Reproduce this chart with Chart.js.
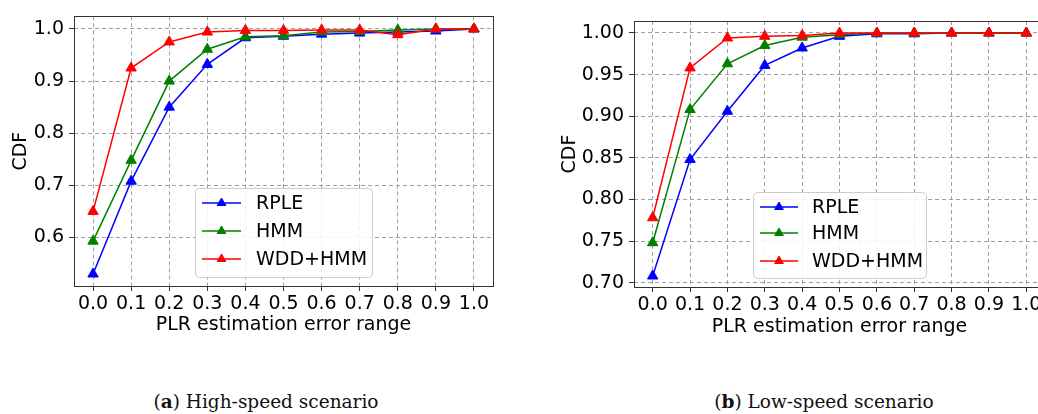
<!DOCTYPE html>
<html>
<head>
<meta charset="utf-8">
<script src="https://cdn.jsdelivr.net/npm/chart.js@4"></script>
<style>
    html, body { margin: 0; padding: 0; background: #fff; overflow: hidden; }
    body { width: 1038px; height: 414px; position: relative; }
    .box { position: absolute; top: 0; height: 340px; }
    #boxA { left: 0; width: 520px; }
    #boxB { left: 520px; width: 540px; }
    .cap { position: absolute; top: 392px; width: 300px; text-align: center; font-family: "DejaVu Serif"; font-size: 18.5px; line-height: 20px; color: #111; white-space: nowrap; }
    #capA { left: 116px; }
    #capB { left: 674px; }
</style>
</head>
<body>
<div class="box" id="boxA"><canvas id="chartA"></canvas></div>
<div class="box" id="boxB"><canvas id="chartB"></canvas></div>
<div class="cap" id="capA">(<b>a</b>) High-speed scenario</div>
<div class="cap" id="capB">(<b>b</b>) Low-speed scenario</div>
<script>
// x categories: PLR estimation error range
const errorRange = ['0.0', '0.1', '0.2', '0.3', '0.4', '0.5', '0.6', '0.7', '0.8', '0.9', '1.0'];
const seriesNames = ['RPLE', 'HMM', 'WDD+HMM'];

// (a) high-speed
const highRPLE = [0.530, 0.708, 0.850, 0.932, 0.983, 0.986, 0.990, 0.992, 0.994, 0.996, 1.000];
const highHMM  = [0.593, 0.748, 0.900, 0.961, 0.985, 0.987, 0.994, 0.995, 0.998, 1.000, 1.000];
const highWDD  = [0.650, 0.925, 0.975, 0.994, 0.997, 0.997, 0.998, 0.998, 0.989, 1.000, 1.000];
const highTicks = [0.6, 0.7, 0.8, 0.9, 1.0];

// (b) low-speed
const lowRPLE = [0.708, 0.848, 0.906, 0.961, 0.982, 0.996, 0.999, 0.999, 1.000, 1.000, 1.000];
const lowHMM  = [0.748, 0.908, 0.963, 0.985, 0.995, 0.998, 1.000, 1.000, 1.000, 1.000, 1.000];
const lowWDD  = [0.778, 0.958, 0.994, 0.996, 0.997, 1.000, 1.000, 1.000, 1.000, 1.000, 1.000];
const lowTicks = [0.70, 0.75, 0.80, 0.85, 0.90, 0.95, 1.00];

const colors = ['#0000ff', '#008000', '#ff0000'];
const font = { family: 'DejaVu Sans', size: 19 };

// box around the plot area, like matplotlib spines
const frame = {
    id: 'frame',
    afterDraw(chart) {
        const a = chart.chartArea, ctx = chart.ctx;
        ctx.save();
        ctx.strokeStyle = '#333';
        ctx.lineWidth = 1;
        ctx.strokeRect(Math.round(a.left) + 0.5, Math.round(a.top) + 0.5,
            Math.round(a.right - a.left), Math.round(a.bottom - a.top));
        ctx.restore();
    }
};

// legend drawn inside the plot
const boxLegend = {
    id: 'boxLegend',
    afterDraw(chart, args, o) {
        const ctx = chart.ctx;
        ctx.save();
        ctx.fillStyle = 'rgba(255,255,255,0.85)';
        ctx.strokeStyle = '#cccccc';
        ctx.lineWidth = 1;
        ctx.beginPath();
        ctx.roundRect(o.x + 0.5, o.y + 0.5, o.w, o.h, 4);
        ctx.fill();
        ctx.stroke();
        chart.data.datasets.forEach((ds, i) => {
            const y = o.rows[i];
            ctx.strokeStyle = ds.borderColor;
            ctx.fillStyle = ds.borderColor;
            ctx.lineWidth = 1.5;
            ctx.beginPath();
            ctx.moveTo(o.lineX0, y);
            ctx.lineTo(o.lineX1, y);
            ctx.stroke();
            ctx.lineWidth = 1;
            Chart.helpers.drawPoint(ctx, { pointStyle: 'triangle', radius: 5, borderWidth: 1 }, (o.lineX0 + o.lineX1) / 2, y);
            ctx.fillStyle = '#000';
            ctx.font = '19px "DejaVu Sans"';
            ctx.textBaseline = 'middle';
            ctx.fillText(ds.label, o.textX, y + 1);
        });
        ctx.restore();
    }
};

function makeChart(id, series, yTicks, digits, L) {
    const datasets = series.map((vals, i) => ({
        label: seriesNames[i],
        data: vals,
        borderColor: colors[i],
        backgroundColor: colors[i],
        pointBackgroundColor: colors[i],
        pointBorderColor: colors[i],
        borderWidth: 1.5,
        pointStyle: 'triangle',
        pointRadius: 6,
        pointBorderWidth: 1,
        tension: 0,
        order: 3 - i
    }));

    new Chart(document.getElementById(id), {
        type: 'line',
        data: { labels: errorRange, datasets: datasets },
        plugins: [frame, boxLegend],
        options: {
            responsive: true,
            maintainAspectRatio: false,
            animation: false,
            events: [],
            layout: { padding: { top: L.padTop, right: L.padRight, left: 0, bottom: 0 } },
            scales: {
                x: {
                    type: 'category',
                    offset: true,
                    afterFit(scale) { scale.height = L.xHeight; },
                    grid: { offset: false, color: '#a0a0a0', tickColor: '#333', tickLength: 5, tickBorderDash: [] },
                    border: { display: false, dash: [4, 3] },
                    ticks: { color: '#000', font: font, padding: 2, autoSkip: false, maxRotation: 0, minRotation: 0 },
                    title: { display: true, text: 'PLR estimation error range', color: '#000', font: font, padding: { top: 0, bottom: L.xTitlePad } }
                },
                y: {
                    type: 'linear',
                    min: L.yMin,
                    max: L.yMax,
                    afterFit(scale) { scale.width = L.yWidth; },
                    afterBuildTicks(scale) { scale.ticks = yTicks.map(v => ({ value: v })); },
                    grid: { color: '#a0a0a0', tickColor: '#333', tickLength: 5, tickBorderDash: [] },
                    border: { display: false, dash: [4, 3] },
                    ticks: { color: '#000', font: font, padding: 5, callback: v => Number(v).toFixed(digits) },
                    title: { display: true, text: 'CDF', color: '#000', font: font, padding: { top: L.yTitlePad, bottom: 0 } }
                }
            },
            plugins: {
                legend: { display: false },
                tooltip: { enabled: false },
                boxLegend: L.legend
            }
        }
    });
}

makeChart('chartA', [highRPLE, highHMM, highWDD], highTicks, 1, {
    yMin: 0.507, yMax: 1.024, padTop: 14, padRight: 27, yWidth: 74, xHeight: 54,
    yTitlePad: 9.5, xTitlePad: 3.5,
    legend: { x: 195, y: 188, w: 177, h: 89, lineX0: 202, lineX1: 241, textX: 256, rows: [203, 231, 259] }
});

makeChart('chartB', [lowRPLE, lowHMM, lowWDD], lowTicks, 2, {
    yMin: 0.6948, yMax: 1.0144, padTop: 21, padRight: 15, yWidth: 114, xHeight: 53,
    yTitlePad: 39, xTitlePad: 2,
    legend: { x: 233, y: 192, w: 173, h: 86, lineX0: 240, lineX1: 278, textX: 292, rows: [207, 233, 261] }
});
</script>
</body>
</html>
